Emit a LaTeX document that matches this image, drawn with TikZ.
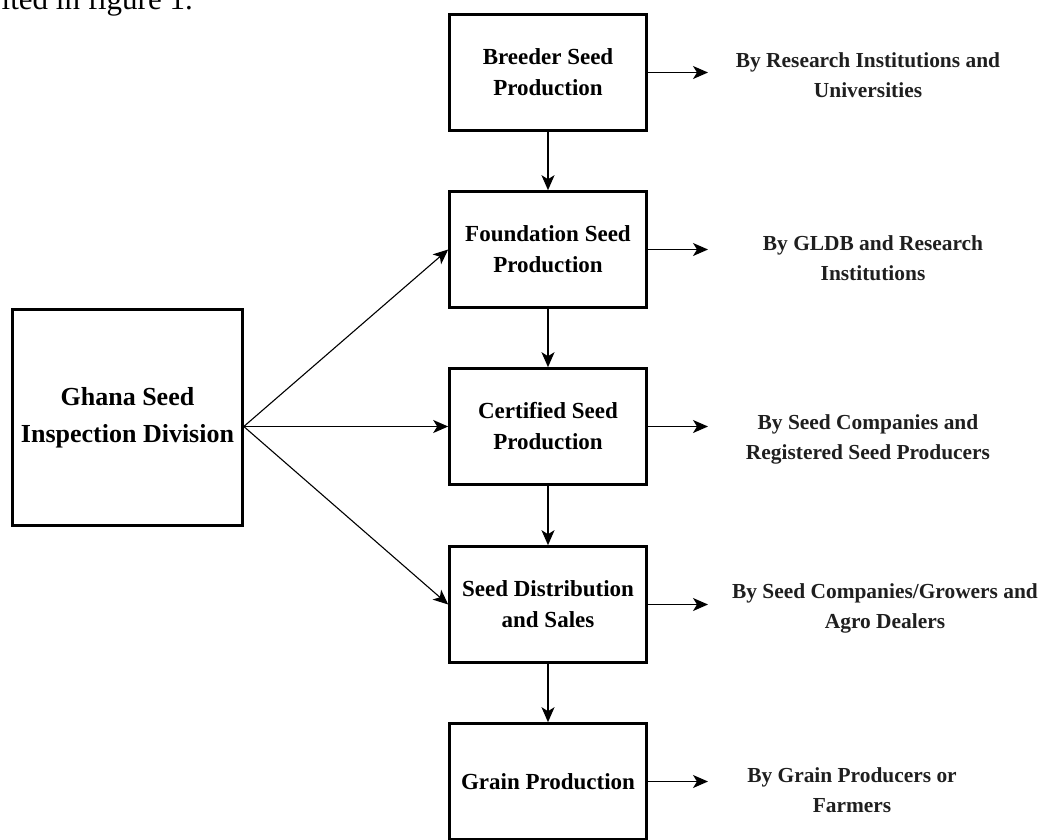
\documentclass[tikz,border=0pt]{standalone}
\usepackage{fontspec}
\setmainfont{Liberation Serif}
\usetikzlibrary{arrows.meta}
\begin{document}
\begin{tikzpicture}[x=1pt,y=-1pt,
  stage/.style={draw,line width=2.6pt,minimum width=197pt,minimum height=116pt,align=center,
    font=\bfseries\fontsize{23}{31}\selectfont,inner sep=0pt},
  lbl/.style={align=center,font=\bfseries\fontsize{21.4}{30}\selectfont,inner sep=0pt,text=black!88},
  arr/.style={line width=1.5pt,-{Stealth[length=15pt,width=13pt,inset=4pt]}},
  thin arr/.style={line width=1.1pt,-{Stealth[length=15pt,width=13pt,inset=4pt]}}]
\useasboundingbox (0,0) rectangle (1044,839);
\node[anchor=base east,font=\fontsize{31}{33}\selectfont,inner sep=0pt] (toptext) at (193,9) {ited in figure 1.};

\node[stage] (breeder) at (548,72.5) {Breeder Seed\\Production};
\node[stage] (found) at (548,249.5) {Foundation Seed\\Production};
\node[stage] (cert) at (548,426.5) {Certified Seed\\Production};
\node[stage] (dist) at (548,604.5) {Seed Distribution\\and Sales};
\node[stage] (grain) at (548,781.5) {Grain Production};

\node[stage,minimum width=230pt,minimum height=216pt,font=\bfseries\fontsize{26}{37}\selectfont] (ghana) at (127.5,417.5) {Ghana Seed\\Inspection Division};

\node[lbl] (l1) at (868,75) {By Research Institutions and\\Universities};
\node[lbl] (l2) at (873,258) {By GLDB and Research\\Institutions};
\node[lbl] (l3) at (868,439) {By Seed Companies and\\Registered Seed Producers};
\node[lbl] (l4) at (885,608) {By Seed Companies/Growers and\\Agro Dealers};
\node[lbl] (l5) at (852,790) {By Grain Producers or\\Farmers};

\coordinate (e1) at (708,72.5);
\coordinate (e2) at (708,249.5);
\coordinate (e3) at (708,426.5);
\coordinate (e4) at (708,604.5);
\coordinate (e5) at (708,781.5);
\draw[arr] (breeder.east) -- (e1);
\draw[arr] (found.east) -- (e2);
\draw[arr] (cert.east) -- (e3);
\draw[arr] (dist.east) -- (e4);
\draw[arr] (grain.east) -- (e5);

\draw[arr] (breeder) -- (found);
\draw[arr] (found) -- (cert);
\draw[arr] (cert) -- (dist);
\draw[arr] (dist) -- (grain);

\coordinate (gs) at (ghana.east |- cert.west);
\draw[thin arr] (gs) -- (found.west);
\draw[arr] (gs) -- (cert.west);
\draw[thin arr] (gs) -- (dist.west);
\end{tikzpicture}
\end{document}
